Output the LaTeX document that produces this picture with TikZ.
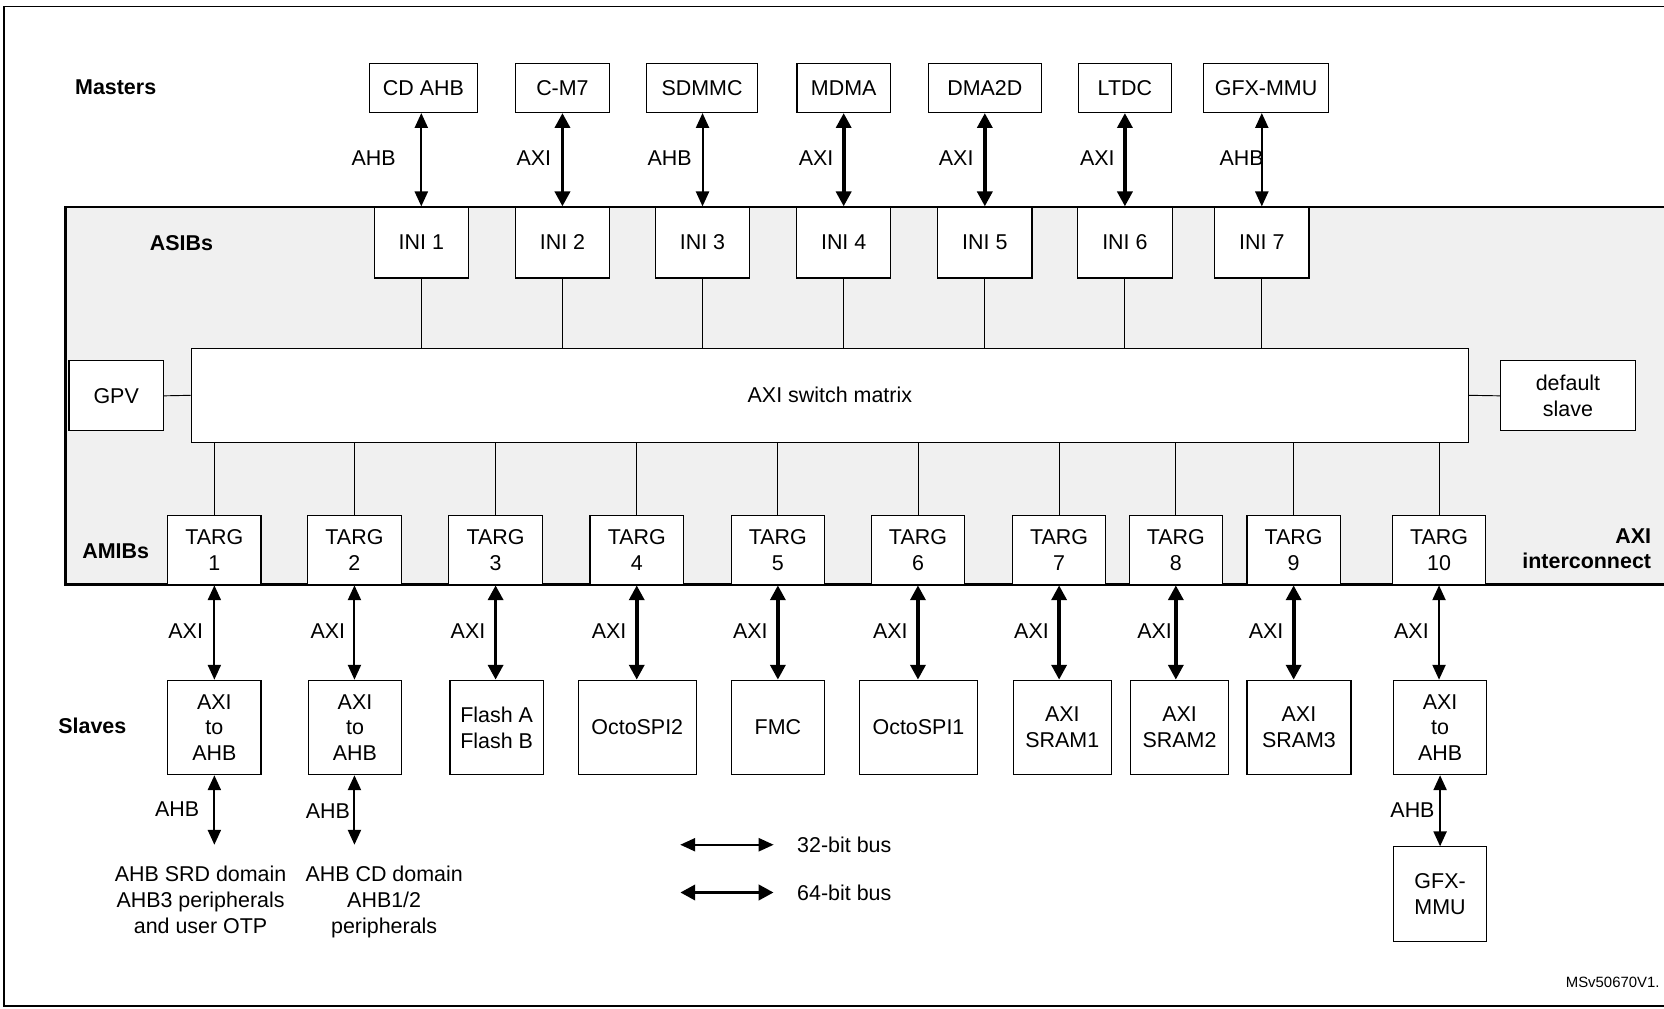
\documentclass[tikz,border=0pt]{standalone}
\usepackage{fontspec}
\setmainfont{Liberation Sans}
\usetikzlibrary{arrows.meta}
\begin{document}
\begin{tikzpicture}[x=0.02cm,y=-0.02cm,
 font=\fontsize{11.5}{13.8}\selectfont,
 box/.style={draw,fill=white,align=center,inner sep=0pt,line width=0.6pt},
 a32/.style={{Triangle[length=8pt,width=7pt]}-{Triangle[length=8pt,width=7pt]},line width=1.1pt},
 a64/.style={{Triangle[length=8pt,width=8pt]}-{Triangle[length=8pt,width=8pt]},line width=2pt},
 ln/.style={line width=0.5pt},
 lbl/.style={font=\fontsize{11.5}{13.8}\selectfont\bfseries}]
\clip (0,0) rectangle (1568,950);
\draw[line width=0.8pt] (4,6) rectangle (1600,948);
\draw[line width=1.5pt,fill=black!6] (62,195) rectangle (1600,551);
% masters
\node[box,minimum width=2.04cm,minimum height=0.92cm] (m1) at (399,83) {CD AHB};
\node[box,minimum width=1.76cm,minimum height=0.92cm] (m2) at (530,83) {C-M7};
\node[box,minimum width=2.1cm,minimum height=0.92cm] (m3) at (661.5,83) {SDMMC};
\node[box,minimum width=1.76cm,minimum height=0.92cm] (m4) at (795,83) {MDMA};
\node[box,minimum width=2.12cm,minimum height=0.92cm] (m5) at (928,83) {DMA2D};
\node[box,minimum width=1.76cm,minimum height=0.92cm] (m6) at (1060,83) {LTDC};
\node[box,minimum width=2.36cm,minimum height=0.92cm] (m7) at (1193,83) {GFX-MMU};
% INI
\foreach \n/\x in {1/397,2/530,3/662,4/795,5/928,6/1060,7/1189}{
 \node[box,minimum width=1.78cm,minimum height=1.34cm] (i\n) at (\x,228.5) {INI \n};
}
\node[box,minimum width=24.08cm,minimum height=1.78cm] (mx) at (782,372.5) {AXI switch matrix};
\node[box,minimum width=1.78cm,minimum height=1.32cm] (gpv) at (109.5,373) {GPV};
\node[box,minimum width=2.54cm,minimum height=1.32cm] (ds) at (1477.5,373) {default\\slave};
\draw[ln] (gpv.east) -- (mx.west);
\draw[ln] (mx.east) -- (ds.west);
% master arrows
\foreach \n/\s/\t/\lx in {1/a32/AHB/352,2/a64/AXI/503,3/a32/AHB/631,4/a64/AXI/769,5/a64/AXI/901,6/a64/AXI/1034,7/a32/AHB/1170}{
 \draw[\s] (m\n.south -| i\n) -- (i\n.north);
 \node[anchor=center] (ml\n) at (\lx,149) {\t};
 \draw[ln] (i\n.south) -- (i\n.south |- mx.north);
}
% TARG
\foreach \n/\x in {1/202,2/334,3/467,4/600,5/733,6/865,7/998,8/1108,9/1219,10/1356}{
 \node[box,minimum width=1.76cm,minimum height=1.3cm] (t\n) at (\x,518.5) {TARG\\\n};
 \draw[ln] (t\n.north |- mx.south) -- (t\n.north);
}
% slaves
\node[box,minimum width=1.76cm,minimum height=1.78cm] (s1) at (202,685.5) {AXI\\to\\AHB};
\node[box,minimum width=1.76cm,minimum height=1.78cm] (s2) at (334.5,685.5) {AXI\\to\\AHB};
\node[box,minimum width=1.76cm,minimum height=1.78cm] (s3) at (468,685.5) {Flash A\\Flash B};
\node[box,minimum width=2.22cm,minimum height=1.78cm] (s4) at (600.5,685.5) {OctoSPI2};
\node[box,minimum width=1.76cm,minimum height=1.78cm] (s5) at (733,685.5) {FMC};
\node[box,minimum width=2.22cm,minimum height=1.78cm] (s6) at (865.5,685.5) {OctoSPI1};
\node[box,minimum width=1.84cm,minimum height=1.78cm] (s7) at (1001,685.5) {AXI\\SRAM1};
\node[box,minimum width=1.86cm,minimum height=1.78cm] (s8) at (1111.5,685.5) {AXI\\SRAM2};
\node[box,minimum width=1.96cm,minimum height=1.78cm] (s9) at (1224,685.5) {AXI\\SRAM3};
\node[box,minimum width=1.76cm,minimum height=1.78cm] (s10) at (1357,685.5) {AXI\\to\\AHB};
\foreach \n/\s/\lx in {1/a32/175,2/a32/309,3/a64/441,4/a64/574,5/a64/707,6/a64/839,7/a64/972,8/a64/1088,9/a64/1193,10/a32/1330}{
 \draw[\s] (t\n.south) -- (s\n.north -| t\n);
 \node (sl\n) at (\lx,595) {AXI};
}
% labels
\node[lbl] (lm) at (109,82) {Masters};
\node[lbl] (la) at (171,229) {ASIBs};
\node[lbl] (lb) at (109,519) {AMIBs};
\node[lbl] (ls) at (87,684) {Slaves};
\node[lbl,align=right,anchor=east] (lx) at (1562,517) {AXI\\interconnect};
% bottom
\coordinate (b1) at (202,796);
\coordinate (b2) at (334,796);
\draw[a32] (s1.south -| b1) -- (b1);
\draw[a32] (s2.south -| b2) -- (b2);
\node (ah1) at (167,762) {AHB};
\node (ah2) at (309,764) {AHB};
\node[align=center,anchor=north] (d1) at (189,810) {AHB SRD domain\\AHB3 peripherals\\and user OTP};
\node[align=center,anchor=north] (d2) at (362,810) {AHB CD domain\\AHB1/2\\peripherals};
\node[box,minimum width=1.76cm,minimum height=1.78cm] (g) at (1357,842.5) {GFX-\\MMU};
\draw[a32] (s10.south) -- (g.north);
\node (ah3) at (1331,763) {AHB};
% legend
\coordinate (l1a) at (641,796); \coordinate (l1b) at (729,796);
\coordinate (l2a) at (641,841); \coordinate (l2b) at (729,841);
\draw[a32] (l1a) -- (l1b);
\draw[a64] (l2a) -- (l2b);
\node[anchor=west] (t32) at (745,796) {32-bit bus};
\node[anchor=west] (t64) at (745,841) {64-bit bus};
\node[anchor=east,font=\fontsize{8}{10}\selectfont] (ms) at (1570,926) {MSv50670V1.};
\end{tikzpicture}
\end{document}
